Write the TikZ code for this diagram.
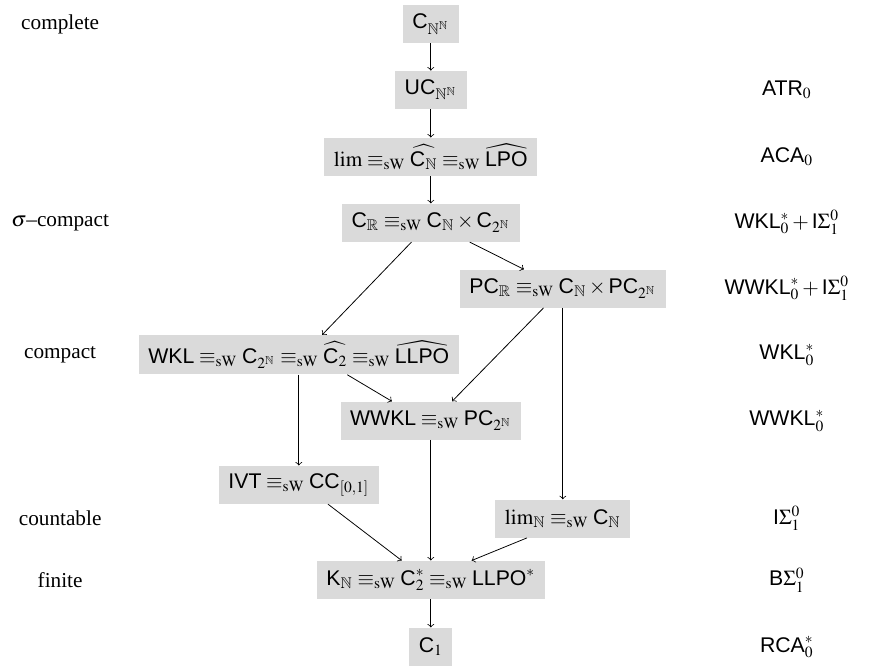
\documentclass[tikz,border=0pt,11pt]{standalone}
\usepackage{amsmath, amssymb}
\usepackage{mathptmx}
\usepackage{fontspec}
\setmainfont{Liberation Serif}
\setsansfont{Liberation Sans}
\renewcommand{\mathsf}[1]{\text{\sffamily #1}}
\usepackage{tikz}
\usetikzlibrary{calc, positioning}
\tikzset{
    boxnode/.style = {draw=none, rectangle, fill=boxgray, inner xsep=0.45em, inner ysep=0.27em,
      minimum height=1.78em, node distance=0em},
    textnode/.style  = {draw=none, fill=none, rectangle, minimum size=0cm, inner sep = 0em,
      node distance=0em, font=\normalsize},
    connect/.style = {black,->},
    every text node part/.style={align=center}
}
\definecolor{boxgray}{RGB}{218, 218, 218}
\newcommand{\eqsw}{\equiv_{\mathrm{sW}}}

\begin{document}
\begin{tikzpicture}
\node[boxnode, name=CNN] {$\mathsf{C}_{\mathbb{N}^\mathbb{N}}$};
\useasboundingbox ($(CNN)+(-20.27em, 1.13em)$) rectangle ($(CNN)+(20.71em, -30.26em)$);

\node[boxnode, name=UC, below of = CNN, yshift=-3.1em] {$\mathsf{UC}_{\mathbb{N}^\mathbb{N}}$};
\node[boxnode, name=lim, below of = UC, yshift=-3.15em]
	{$\lim \eqsw \widehat{\mathsf{C}_\mathbb{N}} \eqsw \widehat{\mathsf{LPO}}$};
\node[boxnode, name=CR, below of = lim, yshift=-3.1em]
	{$\mathsf{C}_\mathbb{R} \eqsw \mathsf{C}_\mathbb{N} \times \mathsf{C}_{2^\mathbb{N}}$};
\node[boxnode, name=PCR, below of = CR, xshift=6.21em, yshift=-3.1em]
	{$\mathsf{PC}_\mathbb{R} \eqsw \mathsf{C}_\mathbb{N} \times \mathsf{PC}_{2^\mathbb{N}}$};
\node[boxnode, name=WKL, below of = CR, xshift=-6.21em, yshift=-6.21em]
	{$\mathsf{WKL} \eqsw \mathsf{C}_{2^\mathbb{N}} \eqsw \widehat{\mathsf{C}_2} \eqsw \widehat{\mathsf{LLPO}}$};
\node[boxnode, name=WWKL, below of = CR, yshift=-9.31em] {$\mathsf{WWKL} \eqsw \mathsf{PC}_{2^\mathbb{N}}$};
\node[boxnode, name=IVT, below of = WKL, yshift=-6.12em] {$\mathsf{IVT} \eqsw \mathsf{CC}_{[0,1]}$};
\node[boxnode, name=limN, below of = PCR, yshift=-10.82em] {$\lim_\mathbb{N} \eqsw \mathsf{C}_\mathbb{N}$};
\node[boxnode, name=KN, below of = WWKL, yshift=-7.49em]
	{$\mathsf{K}_\mathbb{N} \eqsw \mathsf{C}_2^* \eqsw \mathsf{LLPO}^*$};
\node[boxnode, name=C1, below of = KN, yshift=-3.15em] {$\mathsf{C}_1$};

\draw[connect] (CNN) -- (UC);
\draw[connect] (UC) -- (lim);
\draw[connect] (lim) -- (CR);
\draw[connect] ($(CR.south)+(-0.91em, 0em)$) -- ($(WKL.north)+(1.1em, 0em)$);
\draw[connect] ($(CR.south)+(1.83em, 0em)$) -- ($(PCR.north)+(-1.83em, 0em)$);
\draw[connect] ($(PCR.south)+(-0.91em, 0em)$) -- ($(WWKL.north)+(1em, 0em)$);
\draw[connect] (PCR) -- (limN);
\draw[connect] ($(WKL.south)+(2.28em, 0em)$) -- ($(WWKL.north)+(-1.83em, 0em)$);
\draw[connect] (WKL) -- (IVT);
\draw[connect] (WWKL) -- (KN);
\draw[connect] ($(IVT.south)+(1.37em, 0em)$) -- ($(KN.north)+(-1.37em, 0em)$);
\draw[connect] ($(limN.south)+(-1.69em, 0em)$) -- ($(KN.north)+(1.92em, 0em)$);
\draw[connect] (KN) -- (C1);

% left column: topological classes
\coordinate (leftcol) at ($(CNN)+(-17.44em, 0em)$);
\node[textnode, name=complete] at (leftcol |- CNN) {complete};
\node[textnode, name=sigmacompact] at (leftcol |- CR) {$\sigma$--compact};
\node[textnode, name=compact] at (leftcol |- WKL) {compact};
\node[textnode, name=countable] at (leftcol |- limN) {countable};
\node[textnode, name=finite] at (leftcol |- KN) {finite};

% right column: reverse mathematics systems
\coordinate (rightcol) at ($(CNN)+(16.75em, 0em)$);
\node[textnode, name=atr] at (rightcol |- UC) {$\mathsf{ATR}_0$};
\node[textnode, name=aca] at (rightcol |- lim) {$\mathsf{ACA}_0$};
\node[textnode, name=wklind] at (rightcol |- CR) {$\mathsf{WKL}_0^* + \mathsf{I}\Sigma_1^0$};
\node[textnode, name=wwklind] at (rightcol |- PCR) {$\mathsf{WWKL}_0^* + \mathsf{I}\Sigma_1^0$};
\node[textnode, name=wkl] at (rightcol |- WKL) {$\mathsf{WKL}_0^*$};
\node[textnode, name=wwkl] at (rightcol |- WWKL) {$\mathsf{WWKL}_0^*$};
\node[textnode, name=isigma] at (rightcol |- limN) {$\mathsf{I}\Sigma_1^0$};
\node[textnode, name=bsigma] at (rightcol |- KN) {$\mathsf{B}\Sigma_1^0$};
\node[textnode, name=rca] at (rightcol |- C1) {$\mathsf{RCA}_0^*$};
\end{tikzpicture}
\end{document}
